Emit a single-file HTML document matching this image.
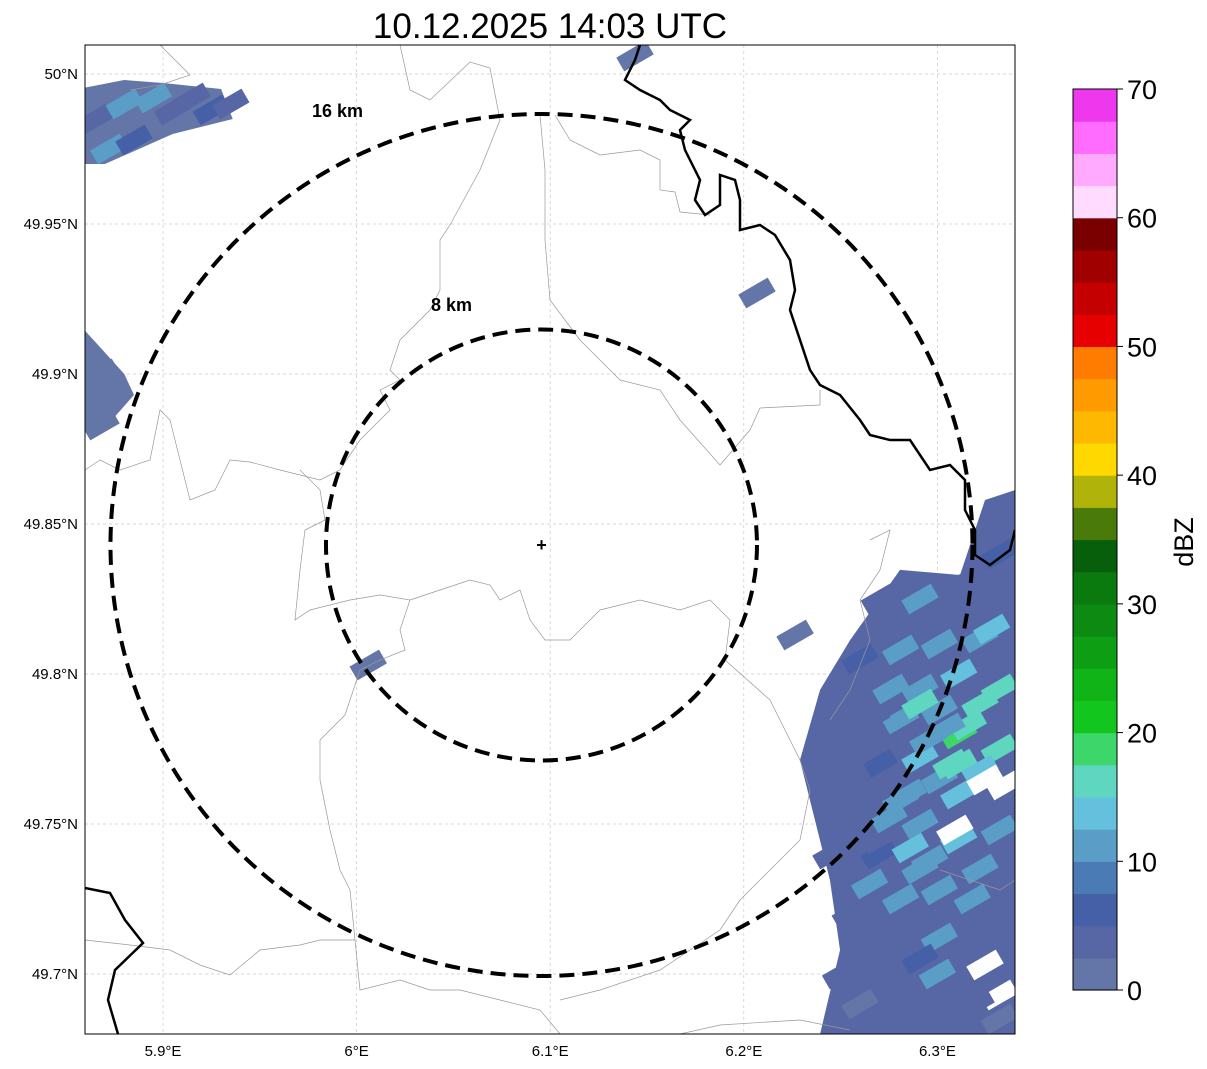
<!DOCTYPE html>
<html><head><meta charset="utf-8"><style>
body{margin:0;background:#fff;width:1207px;height:1069px;overflow:hidden;font-family:"Liberation Sans",sans-serif}
svg{position:absolute;left:0;top:0}
</style></head><body>
<svg id="s" width="1207" height="1069">
<defs><clipPath id="clip"><rect x="85" y="45" width="930" height="989"/></clipPath></defs>
<text x="550" y="38" font-size="35" text-anchor="middle">10.12.2025 14:03 UTC</text>
<g id="map" clip-path="url(#clip)"></g>
<rect x="85" y="45" width="930" height="989" fill="none" stroke="#000" stroke-width="1"/>
<g id="axes"></g>
<g id="cbar"></g>
</svg>
<script>
const lonTicks=[5.9,6.0,6.1,6.2,6.3];
const lonLabels=["5.9°E","6°E","6.1°E","6.2°E","6.3°E"];
const latTicks=[50.0,49.95,49.9,49.85,49.8,49.75,49.7];
const latLabels=["50°N","49.95°N","49.9°N","49.85°N","49.8°N","49.75°N","49.7°N"];
const cbColors=["#6475a8","#5766a4","#4560a6","#4a7bb4","#5a9ec8","#64c0dc","#5fd6c0","#3cd66a","#12c61e","#10b416","#0e9e14","#0c8a12","#0a7a0e","#075f0c","#4a7a0a","#b0b40a","#ffd800","#ffb800","#ff9a00","#ff7c00","#e60000","#c40000","#a00000","#7a0000","#ffdcff","#ffaaff","#ff6cff","#ee38ee"];
const cbTicks=[0,10,20,30,40,50,60,70];
const rangeRings=[8,16];
const radar=[6.0955,49.843];
// base echo region polygon (lon,lat), dBZ
const blobLon=[6.2807,6.3117,6.3246,6.340,6.340,6.2394,6.2497,6.2445,6.229,6.2394,6.2549];
const blobLat=[49.8347,49.833,49.858,49.8613,49.68,49.68,49.708,49.7313,49.7713,49.7947,49.8113];
const blobDbz=3;
// NW and W echo clusters (lon,lat)
const nwLon=[5.856,5.880,5.9,5.93,5.936,5.905,5.87,5.856];
const nwLat=[49.995,49.998,49.997,49.995,49.985,49.980,49.970,49.970];
const wLon=[5.856,5.866,5.880,5.885,5.870,5.856];
const wLat=[49.917,49.910,49.900,49.893,49.882,49.880];
const clusterDbz=2;
// individual radar bins: lon, lat, dBZ (-1 = no echo)
const binLon=[6.270,6.291,6.311,6.332,6.260,6.281,6.301,6.322,6.291,6.311,6.332,6.281,6.301,6.322,6.311,6.291,6.332,6.270,6.301,6.322,6.281,6.311,6.260,6.291,6.311,6.332,6.270,6.291,6.281,6.301,6.322,6.260,6.281,6.301,6.322,6.250,6.270,6.291,6.311,6.332,6.260,6.281,6.301,6.322,6.332,6.270,6.291,6.311,6.250,
6.3246,6.335,6.309,6.3246,6.332,6.316,6.305,6.295,6.285,6.275,6.265,6.255,6.286,6.296,6.318,6.328,6.307,6.276,6.266,6.300,6.320,6.245,6.256,
5.865,5.880,5.895,5.905,5.915,5.925,5.935,5.872,5.885,5.868,5.875,5.868,6.006,6.2068,6.2265,6.1438];
const binLat=[49.825,49.825,49.830,49.840,49.805,49.808,49.810,49.812,49.795,49.800,49.795,49.785,49.788,49.790,49.780,49.772,49.775,49.770,49.765,49.768,49.758,49.760,49.755,49.750,49.745,49.748,49.740,49.735,49.725,49.728,49.735,49.715,49.710,49.712,49.720,49.700,49.700,49.705,49.700,49.705,49.690,49.690,49.688,49.692,49.685,49.745,49.790,49.770,49.770,
49.7647,49.763,49.748,49.703,49.693,49.783,49.782,49.778,49.760,49.752,49.730,49.720,49.742,49.738,49.725,49.815,49.770,49.795,49.785,49.700,49.690,49.740,49.765,
49.985,49.990,49.992,49.988,49.992,49.988,49.990,49.975,49.978,49.900,49.893,49.883,49.803,49.927,49.813,50.006];
const binDbz=[4,10,4,5,5,10,12,10,10,14,15,10,12,17,18,14,15,5,12,14,10,14,4,10,14,12,5,12,10,10,10,4,4,10,4,3,4,5,3,4,2,3,4,3,2,3,17,17,3,
-1,-1,-1,-1,-1,17,12,10,12,10,10,3,14,12,10,14,17,10,4,10,4,3,4,
3,10,12,4,3,5,4,10,5,2,2,2,1,1,1,1];

const X=lon=>163+(lon-5.9)*1936, Y=lat=>74+(50-lat)*3000;
const NS="http://www.w3.org/2000/svg";
function mk(t,a,p){const e=document.createElementNS(NS,t);for(const k in a)e.setAttribute(k,a[k]);p.appendChild(e);return e;}
const col=d=>d<0?"#fff":cbColors[Math.min(cbColors.length-1,Math.floor(d/2.5))];
const map=document.getElementById("map"),axes=document.getElementById("axes"),cb=document.getElementById("cbar");

lonTicks.forEach((v,i)=>{const g=mk("line",{x1:X(v),x2:X(v),y1:45,y2:1034,stroke:"#c8c8c8","stroke-width":0.7,"stroke-dasharray":"3,3"},map);

const t=mk("text",{x:X(v),y:1056,"font-size":15,"text-anchor":"middle"},axes);t.textContent=lonLabels[i];
});
latTicks.forEach((v,i)=>{const g=mk("line",{x1:85,x2:1015,y1:Y(v),y2:Y(v),stroke:"#c8c8c8","stroke-width":0.7,"stroke-dasharray":"3,3"},map);

const t=mk("text",{x:78,y:Y(v)+5,"font-size":15,"text-anchor":"end"},axes);t.textContent=latLabels[i];
});

const bp=mk("polygon",{points:blobLon.map((l,i)=>X(l)+","+Y(blobLat[i])).join(" "),fill:col(blobDbz)},map);

const np=mk("polygon",{points:nwLon.map((l,i)=>X(l)+","+Y(nwLat[i])).join(" "),fill:col(clusterDbz)},map);

const wp=mk("polygon",{points:wLon.map((l,i)=>X(l)+","+Y(wLat[i])).join(" "),fill:col(clusterDbz)},map);

binLon.forEach((l,i)=>{const x=X(l),y=Y(binLat[i]);
const r=mk("rect",{x:x-17,y:y-8,width:34,height:16,fill:col(binDbz[i]),transform:`rotate(-30 ${x} ${y})`},map);
});

const gray=[
"400,45 410,90 430,100 470,62 490,68 500,120 480,170 450,225 440,240 440,290 430,310 400,340 390,370 400,380 380,390 390,410 360,440 340,470 320,480 280,470 250,462 230,460 215,490 190,500 180,460 170,420 160,410 150,460 120,470 100,460 85,470",
"540,115 545,170 545,240 550,300 580,340 620,380 660,390 680,420 720,465 750,430 760,408 820,405 820,390",
"555,115 570,140 600,155 640,150 660,160 660,190 675,192 680,212 710,215",
"160,45 190,75 160,85 130,90",
"300,470 320,490 325,520 305,530 300,570 295,620 310,610 350,600 380,595 410,600 400,630 405,650 380,660 360,670 345,715 320,740 320,780 330,830 340,870 350,890 355,940 360,990 400,980 430,990 460,990 500,1000 540,1010 560,1034",
"410,600 440,590 470,580 490,585 500,600 520,590 530,620 545,640 570,640 600,610 640,600 680,610 710,600 730,620 725,660 770,700 800,760 810,790 800,840 770,870 740,900 720,930 690,950 660,970 600,990 560,1000",
"85,940 130,945 170,950 200,965 230,975 260,950 300,945 320,940 355,940",
"870,540 890,530 880,570 860,600 870,640 850,690 830,720",
"940,870 970,880 1000,890 1015,880","680,1034 720,1025 800,1020 850,1030"];
gray.forEach(p=>{const e=mk("polyline",{points:p,fill:"none",stroke:"#999","stroke-width":0.7},map);
});
const black=["640,45 635,60 625,80 640,90 660,100 670,110 690,120 680,130 685,150 700,180 695,200 705,215 720,205 720,175 735,180 740,200 740,230 760,225 775,235 790,260 795,290 790,310 800,340 810,370 820,385 840,395 860,420 870,435 890,440 910,440 930,470 950,465 965,480 965,510 975,530 975,555 990,565 1010,550 1015,530",
"85,888 110,893 125,920 143,943 115,970 108,1000 118,1034"];
black.forEach(p=>{const e=mk("polyline",{points:p,fill:"none",stroke:"#000","stroke-width":2.5},map);
});

const pxPerKm=431/16;
const labelDx=[-90,-204], labelDy=[-234,-428];
rangeRings.forEach((k,i)=>{const r=k*pxPerKm;
const c=mk("circle",{cx:X(radar[0]),cy:Y(radar[1]),r:r,fill:"none",stroke:"#000","stroke-width":4,"stroke-dasharray":"15,8"},map);

const t=mk("text",{x:X(radar[0])+labelDx[i],y:Y(radar[1])+labelDy[i],"font-size":18,"font-weight":"bold","text-anchor":"middle"},map);
t.textContent=k+" km";});
const m=mk("text",{x:X(radar[0]),y:Y(radar[1])+6,"font-size":18,"font-weight":"bold","text-anchor":"middle"},map);
m.textContent="+";

const cbTop=89,cbBot=990,cbH=(cbBot-cbTop)/28;
cbColors.forEach((c,i)=>{const r=mk("rect",{x:1073,y:cbBot-(i+1)*cbH,width:44,height:cbH+0.6,fill:c},cb);
});
const fr=mk("rect",{x:1073,y:cbTop,width:44,height:cbBot-cbTop,fill:"none",stroke:"#000","stroke-width":1},cb);

cbTicks.forEach(v=>{const y=cbBot-(v/70)*(cbBot-cbTop);
mk("line",{x1:1117,x2:1123,y1:y,y2:y,stroke:"#000"},cb);
const t=mk("text",{x:1127,y:y+10,"font-size":27},cb);t.textContent=v;
});
const lb=mk("text",{x:1193,y:542,"font-size":27,"text-anchor":"middle",transform:"rotate(-90 1193 542)"},cb);
lb.textContent="dBZ";
</script>
</body></html>
